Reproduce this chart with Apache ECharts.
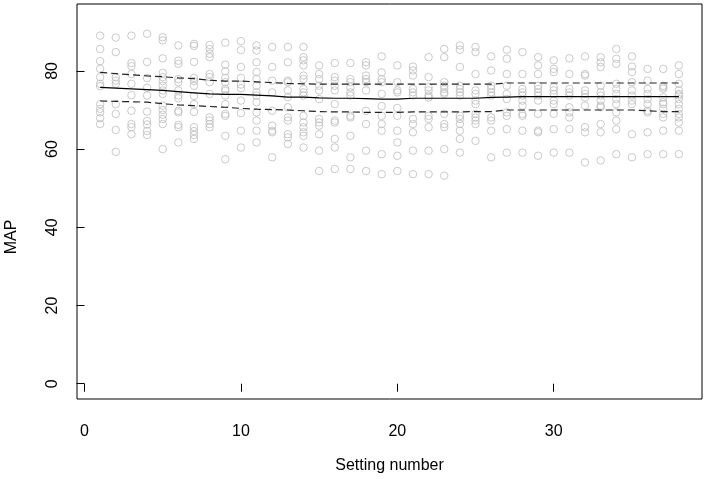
<!DOCTYPE html>
<html>
<head>
<meta charset="utf-8">
<script src="https://cdn.jsdelivr.net/npm/echarts@6/dist/echarts.min.js"></script>
<style>html,body{margin:0;padding:0;background:#fff}#c{width:706px;height:479px}</style>
</head>
<body>
<div id="c"></div>
<script>
const settings = [1,2,3,4,5,6,7,8,9,10,11,12,13,14,15,16,17,18,19,20,21,22,23,24,25,26,27,28,29,30,31,32,33,34,35,36,37,38];
const mapBySetting = [
  [89.0, 85.6, 82.5, 80.5, 78.4, 76.7, 76.1, 71.5, 70.3, 69.4, 67.9, 66.4],
  [88.5, 84.8, 78.4, 77.5, 76.7, 71.5, 69.0, 64.9, 59.3],
  [89.0, 82.0, 81.2, 79.2, 76.7, 73.8, 69.8, 66.4, 65.6, 63.8],
  [89.5, 82.3, 78.2, 75.7, 73.7, 69.6, 67.2, 66.3, 64.6, 63.6],
  [88.6, 87.8, 83.2, 79.5, 78.4, 77.4, 76.2, 75.0, 74.1, 71.1, 70.0, 68.8, 67.7, 66.4, 60.0],
  [86.5, 82.6, 81.8, 77.9, 77.1, 75.0, 73.7, 73.0, 69.8, 69.4, 66.2, 65.6, 61.7],
  [86.9, 86.4, 82.3, 78.2, 77.4, 76.2, 73.6, 71.5, 69.5, 65.6, 64.6, 63.6, 62.6],
  [86.6, 85.6, 84.4, 83.5, 79.2, 78.4, 77.1, 74.1, 68.1, 67.3, 66.4, 65.6],
  [87.2, 81.6, 79.9, 78.2, 77.1, 75.4, 74.9, 73.7, 71.5, 69.0, 68.5, 63.4, 57.4],
  [87.6, 85.3, 81.0, 78.2, 76.5, 75.6, 72.4, 69.2, 64.7, 60.4],
  [86.5, 85.2, 82.2, 79.7, 77.9, 76.2, 74.5, 73.7, 72.0, 69.4, 67.3, 64.7, 61.7],
  [86.1, 81.0, 77.5, 74.5, 69.8, 66.0, 64.7, 64.3, 57.9],
  [86.1, 82.2, 77.5, 77.1, 75.0, 73.3, 70.7, 68.1, 67.3, 63.8, 63.0, 61.3],
  [86.1, 83.5, 82.7, 81.4, 78.8, 77.9, 75.4, 74.5, 73.7, 68.5, 66.8, 65.6, 64.3, 63.4, 60.4],
  [81.4, 79.2, 77.9, 76.2, 75.0, 72.8, 67.7, 66.8, 66.0, 63.8, 59.6, 54.4],
  [82.0, 78.4, 77.5, 76.2, 75.0, 71.5, 67.3, 66.8, 62.6, 60.4, 54.9],
  [82.0, 77.9, 77.1, 75.8, 74.5, 73.7, 68.5, 68.1, 63.4, 57.9, 54.9],
  [82.2, 81.4, 78.8, 77.9, 77.1, 75.0, 69.8, 66.4, 59.6, 54.4],
  [83.7, 79.6, 77.9, 77.1, 74.1, 71.0, 68.5, 66.4, 64.7, 58.7, 53.6],
  [81.4, 77.1, 75.0, 74.5, 70.5, 68.5, 64.7, 61.7, 58.3, 54.4],
  [81.1, 80.1, 78.8, 75.4, 74.5, 73.7, 67.7, 66.4, 64.3, 59.6, 53.6],
  [83.5, 78.4, 75.8, 75.0, 73.7, 73.2, 68.5, 67.7, 65.6, 59.6, 53.6],
  [85.6, 83.5, 77.1, 76.2, 75.4, 74.5, 74.1, 69.0, 66.4, 65.6, 60.0, 53.2],
  [86.5, 85.4, 81.0, 76.2, 75.4, 74.5, 73.7, 68.5, 67.7, 66.4, 64.7, 62.6, 59.1],
  [86.1, 84.8, 79.2, 75.0, 74.1, 72.4, 71.5, 69.0, 68.1, 67.3, 66.4, 62.1],
  [83.7, 80.1, 76.2, 75.4, 74.5, 73.7, 68.1, 67.3, 64.7, 57.9],
  [85.4, 83.1, 79.2, 76.2, 74.1, 72.8, 69.4, 68.5, 65.1, 59.1],
  [84.8, 79.2, 75.4, 74.5, 73.7, 72.4, 71.1, 69.0, 68.5, 64.7, 59.1],
  [83.5, 81.4, 79.2, 76.2, 75.4, 74.5, 73.7, 72.4, 69.0, 64.7, 64.3, 58.3],
  [82.7, 80.5, 79.7, 75.8, 75.0, 74.1, 72.4, 71.5, 69.0, 65.1, 59.1],
  [83.2, 79.2, 75.4, 74.5, 73.7, 70.7, 69.4, 68.1, 65.1, 59.1],
  [83.7, 79.2, 78.8, 75.0, 74.1, 73.2, 71.1, 65.6, 64.3, 56.6],
  [83.5, 82.2, 81.0, 76.2, 74.5, 73.7, 72.4, 71.1, 70.7, 66.4, 64.3, 57.1],
  [85.6, 83.1, 81.8, 76.7, 75.4, 74.1, 72.8, 71.5, 69.4, 67.3, 65.1, 58.7],
  [83.7, 81.1, 79.7, 77.1, 75.0, 73.7, 72.4, 71.5, 63.8, 57.9],
  [80.5, 77.5, 75.4, 74.1, 72.8, 71.5, 69.8, 69.4, 64.3, 58.7],
  [80.5, 76.2, 75.8, 75.4, 73.2, 72.0, 71.5, 70.3, 69.0, 68.1, 64.7, 58.7],
  [81.4, 79.2, 76.7, 75.0, 74.1, 73.7, 72.8, 71.5, 70.3, 69.0, 68.1, 66.8, 64.7, 58.7]
];
const meanLine  = [75.8,75.6,75.4,75.2,75.0,74.7,74.4,74.1,74.0,74.0,73.8,73.6,73.3,73.3,73.1,73.0,73.0,72.9,72.8,72.8,73.0,73.0,73.0,73.0,73.0,73.2,73.3,73.4,73.4,73.4,73.4,73.4,73.4,73.4,73.4,73.4,73.4,73.4];
const upperLine = [79.6,79.3,79.0,78.7,78.5,78.2,78.0,77.6,77.4,77.4,77.2,77.0,76.8,76.7,76.6,76.6,76.6,76.6,76.6,76.6,76.6,76.6,76.6,76.6,76.6,76.6,76.9,76.9,76.9,76.9,76.9,76.9,76.9,76.9,76.9,76.9,76.9,76.9];
const lowerLine = [72.3,72.2,72.1,72.0,71.6,71.3,71.1,70.9,70.7,70.4,70.2,70.1,70.0,69.8,69.6,69.5,69.5,69.4,69.4,69.4,69.5,69.5,69.5,69.5,69.6,69.6,70.0,70.0,70.0,70.0,70.0,70.0,70.0,70.0,70.0,69.8,69.6,69.6];
const xTicks = [0, 10, 20, 30];
const yTicks = [0, 20, 40, 60, 80];

const pts = [];
settings.forEach((s, i) => mapBySetting[i].forEach(v => pts.push([s, v])));
const lineData = arr => settings.map((s, i) => [s, arr[i]]);

const font = 'Liberation Sans, Arial, sans-serif';
const chart = echarts.init(document.getElementById('c'), null, {renderer: 'canvas'});
chart.setOption({
  animation: false,
  backgroundColor: '#fff',
  grid: {left: 77, right: 4, top: 4, bottom: 80, show: true, borderColor: '#000', borderWidth: 1, backgroundColor: 'transparent'},
  xAxis: {
    type: 'value', min: -0.48, max: 39.48,
    name: 'Setting number', nameLocation: 'middle', nameGap: 59,
    nameTextStyle: {fontFamily: font, fontSize: 16, color: '#000'},
    axisLine: {show: false},
    axisTick: {show: true, inside: false, length: 8, lineStyle: {color: '#000', width: 1}, customValues: xTicks},
    axisLabel: {fontFamily: font, fontSize: 16, color: '#000', margin: 25, customValues: xTicks},
    splitLine: {show: false}
  },
  yAxis: {
    type: 'value', min: -3.9, max: 97.1,
    axisLine: {show: false},
    axisTick: {show: true, inside: false, length: 8, lineStyle: {color: '#000', width: 1}, customValues: yTicks},
    axisLabel: {fontFamily: font, fontSize: 16, color: '#000', margin: 16, rotate: 90, customValues: yTicks},
    splitLine: {show: false}
  },
  graphic: [{
    type: 'text', rotation: Math.PI / 2, x: 12, y: 237,
    style: {text: 'MAP', font: '16px ' + font, fill: '#000', align: 'center', verticalAlign: 'middle'}
  }],
  series: [
    {type: 'scatter', data: pts, symbol: 'circle', symbolSize: 7.5, silent: true, z: 2,
     itemStyle: {color: 'rgba(0,0,0,0)', borderColor: '#bdbdbd', borderWidth: 1}},
    {type: 'line', data: lineData(meanLine), showSymbol: false, symbol: 'none', silent: true, z: 3,
     lineStyle: {color: '#000', width: 1.2, type: 'solid'}},
    {type: 'line', data: lineData(upperLine), showSymbol: false, symbol: 'none', silent: true, z: 3,
     lineStyle: {color: '#222', width: 1.2, type: [7, 4]}},
    {type: 'line', data: lineData(lowerLine), showSymbol: false, symbol: 'none', silent: true, z: 3,
     lineStyle: {color: '#222', width: 1.2, type: [7, 4]}}
  ]
});
</script>
</body>
</html>
